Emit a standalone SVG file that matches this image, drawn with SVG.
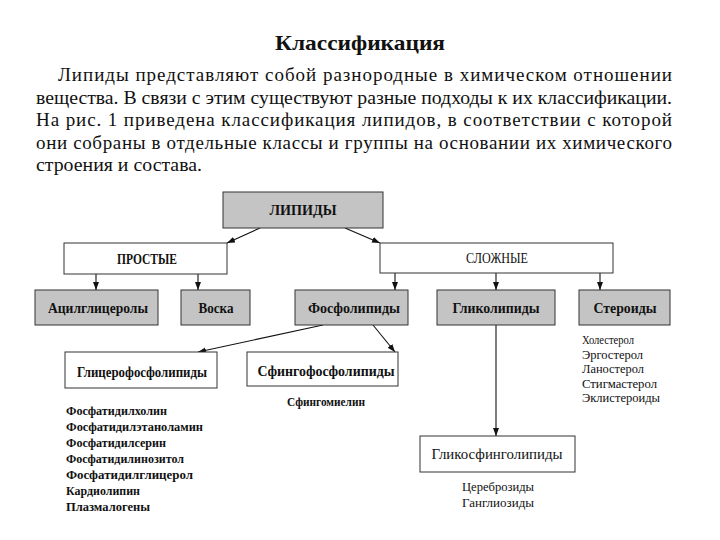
<svg xmlns="http://www.w3.org/2000/svg" width="720" height="540" viewBox="0 0 720 540">
<style>
  text { font-family: "Liberation Serif", "Times New Roman", serif; fill: #111; }
  .title { font-size: 22px; font-weight: bold; }
  .para { font-size: 19px; }
  .lbl { font-size: 14px; font-weight: bold; }
  .lbln { font-size: 14px; }
  .item { font-size: 12.5px; font-weight: bold; }
  .itemn { font-size: 12.5px; }
  .gray { fill: #c4c4c4; stroke: #333; stroke-width: 1; }
  .white { fill: #ffffff; stroke: #333; stroke-width: 1; }
  .conn line { stroke: #111; stroke-width: 1.1; marker-end: url(#ah); }
</style>
<defs>
  <marker id="ah" markerUnits="userSpaceOnUse" markerWidth="9" markerHeight="7" refX="8" refY="3" orient="auto">
    <path d="M0,0 L8,3 L0,6 z" fill="#111"/>
  </marker>
</defs>
<rect width="720" height="540" fill="#ffffff"/>

<g id="heading">
  <text class="title" x="360" y="50" text-anchor="middle" textLength="170" lengthAdjust="spacingAndGlyphs">Классификация</text>
  <text class="para" x="58" y="81" textLength="614" lengthAdjust="spacing">Липиды представляют собой разнородные в химическом отношении</text>
  <text class="para" x="36" y="103.5" textLength="636" lengthAdjust="spacingAndGlyphs">вещества. В связи с этим существуют разные подходы к их классификации.</text>
  <text class="para" x="36" y="126" textLength="636" lengthAdjust="spacing">На рис. 1 приведена классификация липидов, в соответствии с которой</text>
  <text class="para" x="36" y="148.5" textLength="636" lengthAdjust="spacing">они собраны в отдельные классы и группы на основании их химического</text>
  <text class="para" x="36" y="171" textLength="166" lengthAdjust="spacingAndGlyphs">строения и состава.</text>
</g>

<g id="conn" class="conn">
  <line x1="260" y1="228" x2="227" y2="243"/>
  <line x1="345" y1="228" x2="380" y2="243"/>
  <line x1="96" y1="274" x2="96" y2="290"/>
  <line x1="198" y1="274" x2="198" y2="290"/>
  <line x1="395" y1="273" x2="395" y2="290"/>
  <line x1="496" y1="273" x2="496" y2="290"/>
  <line x1="600" y1="273" x2="600" y2="290"/>
  <line x1="323" y1="325" x2="198" y2="352"/>
  <line x1="373" y1="325" x2="395" y2="352"/>
  <line x1="496" y1="325" x2="496" y2="436"/>
</g>

<g id="lipidy">
  <rect class="gray" x="223" y="192" width="160" height="36"/>
  <text class="lbl" x="303" y="215" text-anchor="middle" textLength="67" lengthAdjust="spacingAndGlyphs">ЛИПИДЫ</text>
</g>
<g id="prostye">
  <rect class="white" x="64" y="243" width="163" height="31"/>
  <text class="lbl" x="147" y="263.5" text-anchor="middle" textLength="60" lengthAdjust="spacingAndGlyphs">ПРОСТЫЕ</text>
</g>
<g id="slozhnye">
  <rect class="white" x="380" y="243" width="233" height="30"/>
  <text class="lbln" x="497" y="263" text-anchor="middle" textLength="62" lengthAdjust="spacingAndGlyphs">СЛОЖНЫЕ</text>
</g>
<g id="acil">
  <rect class="gray" x="35" y="290" width="123" height="35"/>
  <text class="lbl" x="98" y="312.5" text-anchor="middle" textLength="100" lengthAdjust="spacingAndGlyphs">Ацилглицеролы</text>
</g>
<g id="voska">
  <rect class="gray" x="181" y="290" width="69" height="35"/>
  <text class="lbl" x="216" y="312.5" text-anchor="middle" textLength="35" lengthAdjust="spacingAndGlyphs">Воска</text>
</g>
<g id="fosfolipidy">
  <rect class="gray" x="295" y="290" width="113" height="35"/>
  <text class="lbl" x="354" y="312.5" text-anchor="middle" textLength="92" lengthAdjust="spacingAndGlyphs">Фосфолипиды</text>
</g>
<g id="glikolipidy">
  <rect class="gray" x="437" y="290" width="118" height="35"/>
  <text class="lbl" x="496" y="312.5" text-anchor="middle" textLength="87" lengthAdjust="spacingAndGlyphs">Гликолипиды</text>
</g>
<g id="steroidy">
  <rect class="gray" x="579" y="290" width="91" height="35"/>
  <text class="lbl" x="625" y="312.5" text-anchor="middle" textLength="63" lengthAdjust="spacingAndGlyphs">Стероиды</text>
</g>
<g id="glicerofosfolipidy">
  <rect class="white" x="65" y="352" width="152" height="36"/>
  <text class="lbl" x="142" y="376.5" text-anchor="middle" textLength="130" lengthAdjust="spacingAndGlyphs">Глицерофосфолипиды</text>
</g>
<g id="sfingofosfolipidy">
  <rect class="white" x="247" y="352" width="151" height="34"/>
  <text class="lbl" x="326" y="375.5" text-anchor="middle" textLength="137" lengthAdjust="spacingAndGlyphs">Сфингофосфолипиды</text>
</g>
<g id="glikosfingolipidy">
  <rect class="white" x="420" y="436" width="155" height="36"/>
  <text class="lbln" x="497" y="458.5" text-anchor="middle" textLength="131" lengthAdjust="spacingAndGlyphs">Гликосфинголипиды</text>
</g>

<g id="glicero-list">
  <text class="item" x="66" y="415" textLength="101" lengthAdjust="spacingAndGlyphs">Фосфатидилхолин</text>
  <text class="item" x="66" y="431" textLength="137" lengthAdjust="spacingAndGlyphs">Фосфатидилэтаноламин</text>
  <text class="item" x="66" y="447" textLength="100" lengthAdjust="spacingAndGlyphs">Фосфатидилсерин</text>
  <text class="item" x="66" y="463" textLength="118" lengthAdjust="spacingAndGlyphs">Фосфатидилинозитол</text>
  <text class="item" x="66" y="479" textLength="127" lengthAdjust="spacingAndGlyphs">Фосфатидилглицерол</text>
  <text class="item" x="66" y="495" textLength="74" lengthAdjust="spacingAndGlyphs">Кардиолипин</text>
  <text class="item" x="66" y="511" textLength="84" lengthAdjust="spacingAndGlyphs">Плазмалогены</text>
</g>
<g id="sfingo-list">
  <text class="item" x="287" y="406" textLength="78" lengthAdjust="spacingAndGlyphs">Сфингомиелин</text>
</g>
<g id="steroid-list">
  <text class="itemn" x="582" y="344" textLength="52" lengthAdjust="spacingAndGlyphs">Холестерол</text>
  <text class="itemn" x="582" y="358.5" textLength="61" lengthAdjust="spacingAndGlyphs">Эргостерол</text>
  <text class="itemn" x="582" y="373" textLength="62" lengthAdjust="spacingAndGlyphs">Ланостерол</text>
  <text class="itemn" x="582" y="387.5" textLength="75" lengthAdjust="spacingAndGlyphs">Стигмастерол</text>
  <text class="itemn" x="582" y="402" textLength="78" lengthAdjust="spacingAndGlyphs">Эклистероиды</text>
</g>
<g id="glikosfingo-list">
  <text class="itemn" x="462" y="491" textLength="72" lengthAdjust="spacingAndGlyphs">Цереброзиды</text>
  <text class="itemn" x="462" y="507" textLength="72" lengthAdjust="spacingAndGlyphs">Ганглиозиды</text>
</g>
</svg>
